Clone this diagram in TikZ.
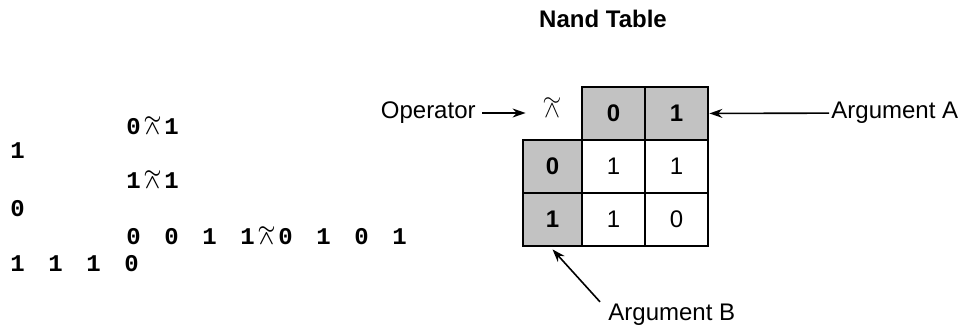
\documentclass[tikz,border=0pt]{standalone}
\usepackage{fontspec}
\usepackage{amsmath}
\usetikzlibrary{arrows.meta,positioning}
\setsansfont{Liberation Sans}
\newfontfamily\aplfont{Liberation Mono}
% one character cell of the session (fixed pitch)
\newcommand{\ch}[1]{\makebox[9.5pt][l]{#1}}
\newcommand{\gap}{\hspace*{9.5pt}}
% tilde over and-sign
\newcommand{\nandglyph}{\ooalign{$\wedge$\cr\hidewidth\raisebox{0.48em}{$\sim$}\hidewidth\cr}}
\newcommand{\nandop}{\makebox[7.2pt]{\fontsize{10}{12}\selectfont\boldmath\nandglyph}}
\tikzset{
    blackarrow/.style={
        line width=0.8pt,
        black,
        -{Stealth[length=6.5pt, width=4.5pt]}
    },
    % cells of the table
    cell/.style={draw, line width=1.4pt, minimum width=31.5pt, minimum height=26.5pt,
        inner sep=0pt, font=\sffamily\fontsize{12}{14}\selectfont},
    argcell/.style={cell, fill=black!24, font=\sffamily\bfseries\fontsize{12}{14}\selectfont},
    sessionline/.style={anchor=base west, inner sep=0pt, font=\aplfont\bfseries\fontsize{12}{14}\selectfont},
    callout/.style={inner sep=1pt, font=\sffamily\fontsize{12}{14}\selectfont}
}
\begin{document}
\begin{tikzpicture}[x=0.5pt,y=-0.5pt]
   \useasboundingbox (0,0) rectangle (969,326);
   % APL session
   \node[sessionline] (in1) at (126,134) {\ch0\ch\nandop\ch1};
   \node[sessionline] (out1) at (10,159) {\ch1};
   \node[sessionline] (in2) at (126,188) {\ch1\ch\nandop\ch1};
   \node[sessionline] (out2) at (10,216) {\ch0};
   \node[sessionline] (in3) at (126,244) {\ch0\gap\ch0\gap\ch1\gap\ch1\ch\nandop\ch0\gap\ch1\gap\ch0\gap\ch1};
   \node[sessionline] (out3) at (10,271) {\ch1\gap\ch1\gap\ch1\gap\ch0};

   % the table
   \node[font=\sffamily\bfseries\fontsize{12}{14}\selectfont] (title) at (603,19) {Nand Table};
   \node[inner sep=1pt] (nandsym) at (552,111) {\fontsize{12}{14}\selectfont\nandglyph};
   \node[argcell] (c12) at (613.5,113.5) {0};
   \node[argcell] (c13) at (676.5,113.5) {1};
   \node[argcell, minimum width=29.5pt] (c21) at (552.5,166.5) {0};
   \node[cell] (c22) at (613.5,166.5) {1};
   \node[cell] (c23) at (676.5,166.5) {1};
   \node[argcell, minimum width=29.5pt] (c31) at (552.5,219.5) {1};
   \node[cell] (c32) at (613.5,219.5) {1};
   \node[cell] (c33) at (676.5,219.5) {0};

   % labels
   \node[callout, anchor=east] (opname) at (478,113) {Operator};
   \node[callout, anchor=west] (argA) at (829,113) {Argument A};
   \node[callout, anchor=west] (argB) at (606,315) {Argument B};
   \draw[blackarrow, shorten <=2pt, shorten >=8pt] (opname.east) -- (opname.east -| nandsym.west);
   \draw[blackarrow] (argA) -- (c13);
   \draw[blackarrow] ([xshift=-3pt]argB.north west) -- ([yshift=-1pt]c31.south);
\end{tikzpicture}
\end{document}
